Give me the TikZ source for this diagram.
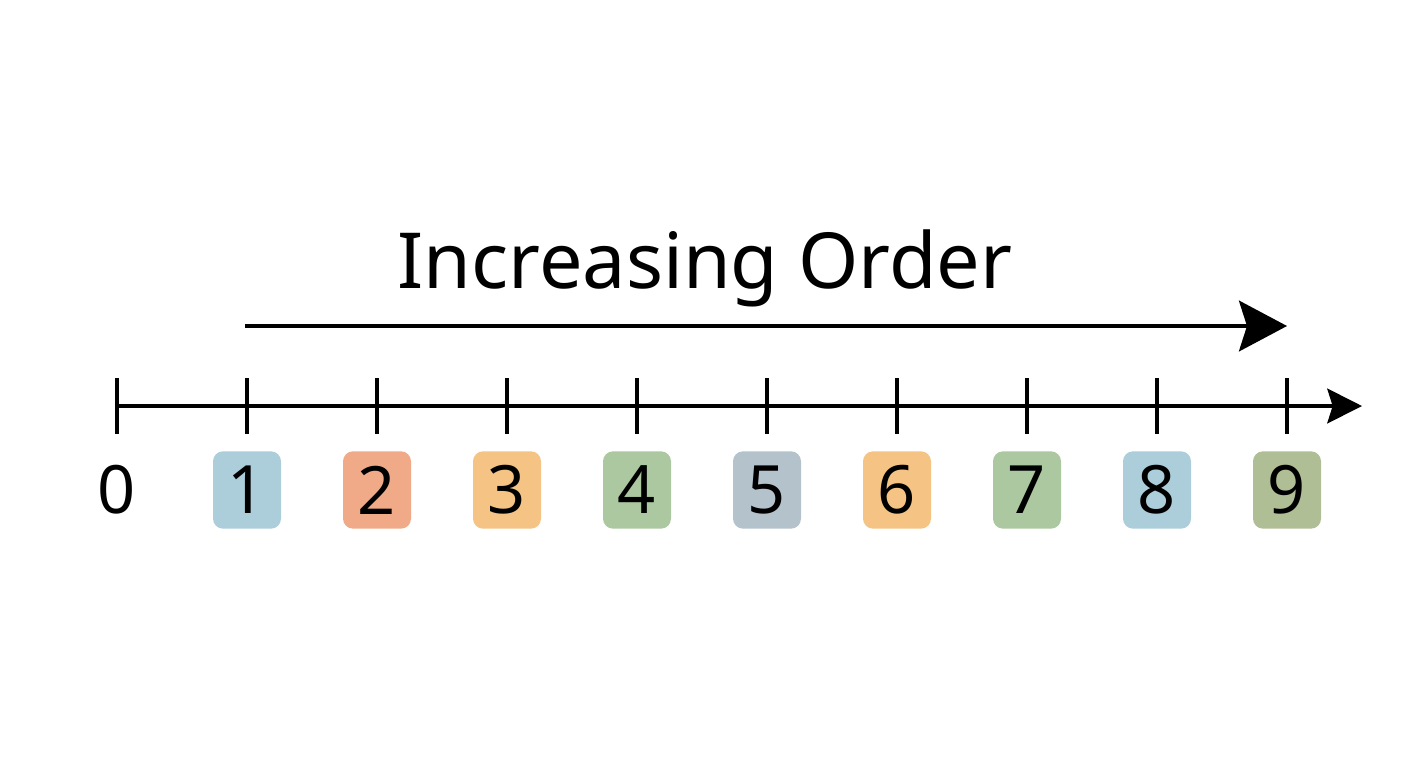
\documentclass[tikz,border=0pt]{standalone}
\usepackage{fontspec}
\setmainfont{Noto Sans}
\usetikzlibrary{arrows.meta}
\definecolor{cblue}{RGB}{172,205,218}
\definecolor{csalmon}{RGB}{240,170,135}
\definecolor{corange}{RGB}{245,196,132}
\definecolor{cgreen}{RGB}{172,200,160}
\definecolor{cgray}{RGB}{180,194,204}
\definecolor{colive}{RGB}{176,190,150}
\tikzset{every picture/.style={line width=0.75pt}}
\tikzset{
  numbox/.style={rounded corners=7.5pt, minimum width=51pt, minimum height=58pt, inner sep=0pt, font=\fontsize{50}{50}\selectfont},
  tick/.style={line width=2.6pt},
}

\begin{document}
\begin{tikzpicture}[x=0.75pt,y=0.75pt,yscale=-1,xscale=1]
\path [use as bounding box] (0,0) rectangle (1408,768);

% Axis
\coordinate (axS) at (117,406);
\coordinate (axE) at (1362,406);
\draw [line width=3pt, -{Stealth[length=26pt,width=26pt,inset=4pt]}] (axS) -- (axE);

% Ticks and labels
\foreach \i/\c in {1/cblue,2/csalmon,3/corange,4/cgreen,5/cgray,6/corange,7/cgreen,8/cblue,9/colive}{
  \coordinate (t\i) at (117+130*\i,378);
  \coordinate (b\i) at (117+130*\i,434);
  \draw [tick] (t\i) -- (b\i);
  \node [numbox, fill=\c] (n\i) at (117+130*\i,490) {\i};
}
\coordinate (t0) at (117,378);
\coordinate (b0) at (117,434);
\draw [tick] (t0) -- (b0);
\node [numbox] (n0) at (117,490) {0};

% Order arrow
\node [inner sep=0pt, font=\fontsize{58}{58}\selectfont] (title) at (705,268) {Increasing Order};
\coordinate (arS) at (245,326);
\coordinate (arE) at (1287,326);
\draw [line width=3pt, -{Stealth[length=36pt,width=38pt,inset=6pt]}] (arS) -- (arE);

\end{tikzpicture}
\end{document}
